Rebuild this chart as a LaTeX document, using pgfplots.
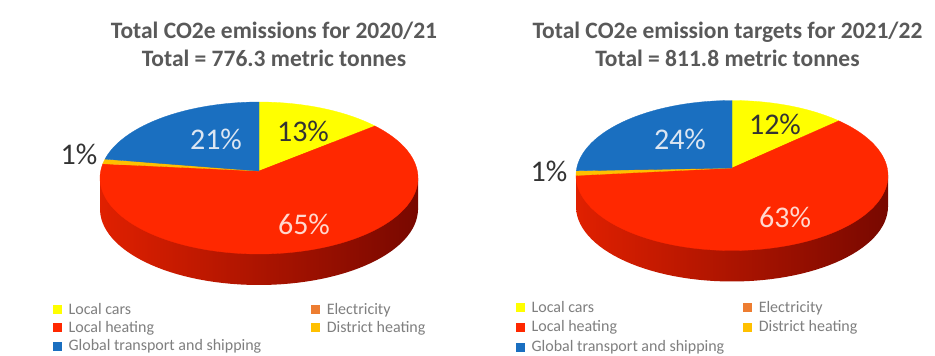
\documentclass[border=0pt]{standalone}
\usepackage{pgfplots}
\pgfplotsset{compat=1.18}
\usepackage{fontspec}
\setmainfont{Carlito}
\definecolor{cYellow}{HTML}{FFFF00}
\definecolor{cRed}{HTML}{FF2800}
\definecolor{cBlue}{HTML}{1A6FC0}
\definecolor{cOrange}{HTML}{ED7D31}
\definecolor{cGold}{HTML}{FFC000}
\definecolor{sideL}{HTML}{E02000}
\definecolor{sideM}{HTML}{B01000}
\definecolor{sideR}{HTML}{780800}
\definecolor{titleGray}{HTML}{595959}
\definecolor{legGray}{HTML}{7F7F7F}
\definecolor{darkLab}{HTML}{333333}
\definecolor{blueLab}{HTML}{DCE6F2}
\definecolor{redLab}{HTML}{FFD8CF}

% ---- data (percent shares) ----
\def\LCars{13}\def\LElec{0}\def\LHeat{65}\def\LDist{1}\def\LGlob{21}
\def\RCars{12}\def\RElec{0}\def\RHeat{63}\def\RDist{1}\def\RGlob{24}

% angles (clockwise from 12 o'clock)
\pgfmathsetmacro\LaA{90}
\pgfmathsetmacro\LaB{\LaA-3.6*\LCars}
\pgfmathsetmacro\LaC{\LaB-3.6*(\LElec+\LHeat)}
\pgfmathsetmacro\LaD{\LaC-3.6*\LDist}
\pgfmathsetmacro\LaE{\LaD-3.6*\LGlob}
\pgfmathsetmacro\RaA{90}
\pgfmathsetmacro\RaB{\RaA-3.6*\RCars}
\pgfmathsetmacro\RaC{\RaB-3.6*(\RElec+\RHeat)}
\pgfmathsetmacro\RaD{\RaC-3.6*\RDist}
\pgfmathsetmacro\RaE{\RaD-3.6*\RGlob}

% sector: color, from angle, to angle, cx, cy(rim centre), a, b, vertex y, samples
\newcommand{\sector}[9]{%
  \addplot[fill=#1, draw=#1, line width=0.3pt, domain=#3:#2, samples=#9, forget plot]
    ({#4+#6*cos(x)},{#5-#7*sin(x)}) -- (axis cs:#4,#8) -- cycle;}
% side: cx, cy, a, b, depth
\newcommand{\pieside}[5]{%
  \addplot[left color=sideL, middle color=sideM, right color=sideR, draw=none, domain=0:360, samples=120, forget plot]
    ({#1+#3*cos(x)},{#2+#5-#4*sin(x)}) -- cycle;
  \addplot[left color=sideL, middle color=sideM, right color=sideR, draw=none, forget plot]
    coordinates {(#1-#3,#2) (#1+#3,#2) (#1+#3,#2+#5) (#1-#3,#2+#5)} -- cycle;}

\pgfplotsset{sq/.style={legend image code/.code={\fill[#1] (0pt,-4pt) rectangle (8pt,4pt); \path (13pt,0pt);}}}
\pgfplotsset{pieaxis/.style={scale only axis, width=467.5pt, height=356pt, ymin=0, ymax=356,
  y dir=reverse, hide axis, clip=false, anchor=south west,
  legend columns=2, legend cell align=left,
  legend style={draw=none, fill=none, font=\fontsize{16}{19}\selectfont, text=legGray,
    inner sep=0pt}}}

\begin{document}
\begin{tikzpicture}
\path[use as bounding box] (0,0) rectangle (935pt,356pt);
\fill[white] (0,0) rectangle (935pt,356pt);
% ================= left =================
\begin{axis}[pieaxis, at={(0pt,0pt)}, xmin=0, xmax=467.5,
  legend style={at={(axis cs:53,301)}, anchor=north west, row sep=1.5pt,
    /tikz/every even column/.append style={column sep=48pt}}]
\pieside{259}{178}{159}{76}{31}
\sector{cYellow}{\LaA}{\LaB}{259}{178}{159}{76}{171}{30}
\sector{cRed}{\LaB}{\LaC}{259}{178}{159}{76}{171}{120}
\sector{cGold}{\LaC}{\LaD}{259}{178}{159}{76}{171}{4}
\sector{cBlue}{\LaD}{\LaE}{259}{178}{159}{76}{171}{40}
\addlegendimage{sq=cYellow}\addlegendentry{Local cars}
\addlegendimage{sq=cOrange}\addlegendentry{Electricity}
\addlegendimage{sq=cRed}\addlegendentry{Local heating}
\addlegendimage{sq=cGold}\addlegendentry{District heating}
\addlegendimage{sq=cBlue}\addlegendentry{Global transport and shipping}
\node[font=\bfseries\fontsize{23.5}{28}\selectfont, text=titleGray, align=center] at (axis cs:274,44)
  {Total CO2e emissions for 2020/21\\Total = 776.3 metric tonnes};
\node[font=\fontsize{30}{30}\selectfont, text=darkLab] at (axis cs:303,131) {13\%};
\node[font=\fontsize{30}{30}\selectfont, text=blueLab] at (axis cs:216,139) {21\%};
\node[font=\fontsize{30}{30}\selectfont, text=redLab] at (axis cs:304,224) {65\%};
\node[font=\fontsize{30}{30}\selectfont, text=darkLab] at (axis cs:79,154) {1\%};
\end{axis}
% ================= right =================
\begin{axis}[pieaxis, at={(467.5pt,0pt)}, xmin=467.5, xmax=935,
  legend style={at={(axis cs:516,299)}, anchor=north west, row sep=3pt,
    /tikz/every even column/.append style={column sep=17pt}}]
\pieside{732}{175.5}{156}{75}{31}
\sector{cYellow}{\RaA}{\RaB}{732}{175.5}{156}{75}{168}{30}
\sector{cRed}{\RaB}{\RaC}{732}{175.5}{156}{75}{168}{120}
\sector{cGold}{\RaC}{\RaD}{732}{175.5}{156}{75}{168}{4}
\sector{cBlue}{\RaD}{\RaE}{732}{175.5}{156}{75}{168}{40}
\addlegendimage{sq=cYellow}\addlegendentry{Local cars}
\addlegendimage{sq=cOrange}\addlegendentry{Electricity}
\addlegendimage{sq=cRed}\addlegendentry{Local heating}
\addlegendimage{sq=cGold}\addlegendentry{District heating}
\addlegendimage{sq=cBlue}\addlegendentry{Global transport and shipping}
\node[font=\bfseries\fontsize{23.5}{28}\selectfont, text=titleGray, align=center] at (axis cs:727.5,44)
  {Total CO2e emission targets for 2021/22\\Total = 811.8 metric tonnes};
\node[font=\fontsize{30}{30}\selectfont, text=darkLab] at (axis cs:775,124) {12\%};
\node[font=\fontsize{30}{30}\selectfont, text=blueLab] at (axis cs:680,139) {24\%};
\node[font=\fontsize{30}{30}\selectfont, text=redLab] at (axis cs:785,217) {63\%};
\node[font=\fontsize{30}{30}\selectfont, text=darkLab] at (axis cs:549,171) {1\%};
\end{axis}
\end{tikzpicture}
\end{document}
